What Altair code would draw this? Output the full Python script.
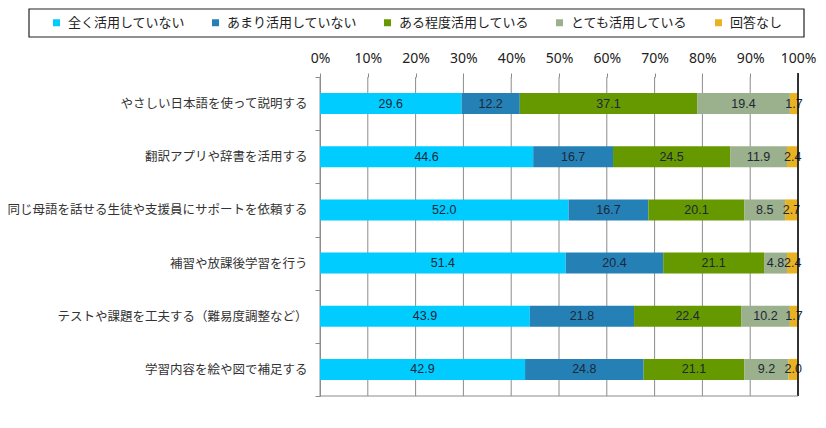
import altair as alt
import pandas as pd

categories = [
    "やさしい日本語を使って説明する",
    "翻訳アプリや辞書を活用する",
    "同じ母語を話せる生徒や支援員にサポートを依頼する",
    "補習や放課後学習を行う",
    "テストや課題を工夫する（難易度調整など）",
    "学習内容を絵や図で補足する",
]
series_names = ["全く活用していない", "あまり活用していない", "ある程度活用している", "とても活用している", "回答なし"]
s_none = [29.6, 44.6, 52.0, 51.4, 43.9, 42.9]
s_little = [12.2, 16.7, 16.7, 20.4, 21.8, 24.8]
s_some = [37.1, 24.5, 20.1, 21.1, 22.4, 21.1]
s_much = [19.4, 11.9, 8.5, 4.8, 10.2, 9.2]
s_na = [1.7, 2.4, 2.7, 2.4, 1.7, 2.0]
colors = ["#00CCFF", "#2581B5", "#669900", "#9BB08C", "#E8B223"]
x_ticks = [0, 10, 20, 30, 40, 50, 60, 70, 80, 90, 100]

rows = []
for si, (name, vals) in enumerate(zip(series_names, [s_none, s_little, s_some, s_much, s_na])):
    for c, v in zip(categories, vals):
        rows.append({"cat": c, "series": name, "value": v, "order": si})
df = pd.DataFrame(rows)

W, H = 478, 319
FONT = "Noto Sans CJK JP"
GRID = "#8c8c8c"

x_scale = alt.Scale(domain=[0, 100], nice=False)
x_axis = alt.Axis(
    orient="top", values=x_ticks, labelExpr="datum.value + '%'",
    tickSize=4, tickColor=GRID, domain=False, grid=False, labelFlush=False,
    labelFontSize=14, labelFont="Noto Sans",
    labelColor="#222222", labelPadding=8, title=None,
)
y_enc = alt.Y(
    "cat:N",
    sort=categories,
    scale=alt.Scale(paddingInner=0, paddingOuter=0),
    axis=alt.Axis(
        title=None, tickBand="extent", tickSize=5, tickColor=GRID,
        domainColor=GRID, labelFontSize=12.5, labelFont=FONT,
        labelColor="#333333", labelPadding=8, grid=False, labelLimit=400,
    ),
)

grid = alt.Chart(pd.DataFrame({"t": x_ticks})).mark_rule(color=GRID, strokeWidth=1).encode(
    x=alt.X("t:Q", scale=x_scale, axis=x_axis), y=alt.value(0), y2=alt.value(H)
)

bars = alt.Chart(df).mark_bar(size=21, clip=True).encode(
    x=alt.X("value:Q", stack="zero", scale=x_scale, axis=x_axis),
    y=y_enc,
    color=alt.Color(
        "series:N",
        scale=alt.Scale(domain=series_names, range=colors),
        legend=alt.Legend(
            orient="none", direction="horizontal", legendX=-270, legendY=-61,
            title=None, symbolType="square", symbolSize=49, symbolStrokeWidth=0,
            labelFontSize=13, labelFont=FONT, labelColor="#222222",
            labelOffset=5, columnPadding=23, padding=0, labelLimit=300,
        ),
    ),
    order=alt.Order("order:Q"),
)

labels = alt.Chart(df).transform_window(
    cum="sum(value)", sort=[alt.SortField("order")], groupby=["cat"],
    frame=[None, 0],
).transform_calculate(
    mid="datum.cum - datum.value / 2"
).mark_text(font="Liberation Sans", fontSize=12.5, color="#1b2838").encode(
    x=alt.X("mid:Q", scale=x_scale, axis=x_axis),
    y=alt.Y("cat:N", sort=categories),
    text=alt.Text("value:Q", format=".1f"),
)

right_line = alt.Chart(pd.DataFrame({"v": [100]})).mark_rule(color="black", strokeWidth=1.5).encode(
    x=alt.X("v:Q", scale=x_scale, axis=x_axis), y=alt.value(-4), y2=alt.value(H)
)
bottom_line = alt.Chart(pd.DataFrame({"v": [0]})).mark_rule(color=GRID).encode(
    x=alt.value(0), x2=alt.value(W), y=alt.value(H)
)
legend_box = alt.Chart(pd.DataFrame({"v": [0]})).mark_rect(
    fill="white", fillOpacity=0, stroke="#222222", strokeWidth=1.2
).encode(
    x=alt.value(-291), x2=alt.value(484), y=alt.value(-68), y2=alt.value(-40)
)

chart = alt.layer(legend_box, grid, bars, labels, right_line, bottom_line).properties(
    width=W, height=H,
    autosize=alt.AutoSizeParams(type="none"),
    padding={"left": 320, "top": 77, "right": 28, "bottom": 32},
    background="white",
).configure_view(stroke=None)

chart.save("out.html", embed_options={"renderer": "svg", "actions": False})
